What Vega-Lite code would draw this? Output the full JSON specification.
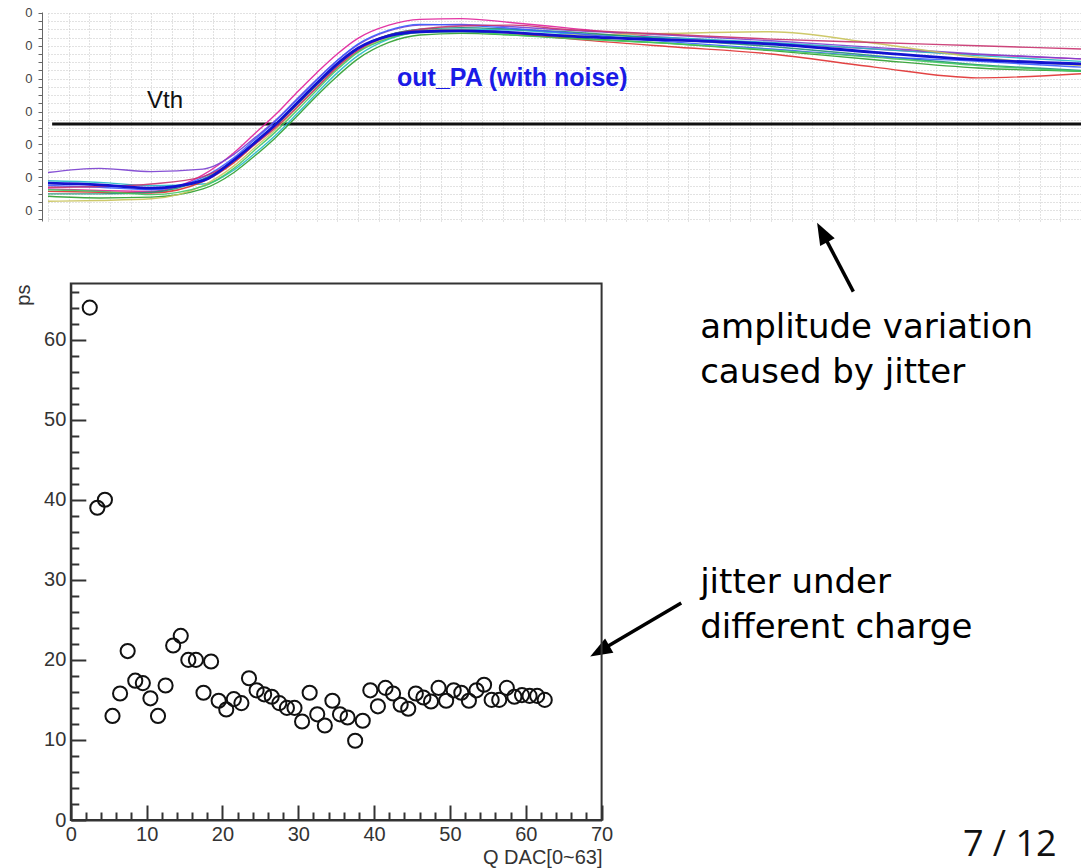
{
"$schema":"https://vega.github.io/schema/vega-lite/v6.json",
"width":1081,"height":868,"autosize":{"type":"none"},"padding":0,"background":"white",
"config":{"view":{"stroke":null},"font":"Liberation Sans"},
"datasets":{
"wave":[
{"s":"c","t":0,"v":3.3},{"s":"c","t":5,"v":3.1},{"s":"c","t":10,"v":2.7},{"s":"c","t":15,"v":3.6},{"s":"c","t":18,"v":6.1},{"s":"c","t":20,"v":8.2},{"s":"c","t":22,"v":10.4},{"s":"c","t":24,"v":12.9},{"s":"c","t":26,"v":15.4},{"s":"c","t":28,"v":17.8},{"s":"c","t":30,"v":19.7},{"s":"c","t":33,"v":21.2},{"s":"c","t":36,"v":21.7},{"s":"c","t":40,"v":21.8},{"s":"c","t":45,"v":21.6},{"s":"c","t":50,"v":21.2},{"s":"c","t":60,"v":20.7},{"s":"c","t":70,"v":20.2},{"s":"c","t":80,"v":19.2},{"s":"c","t":90,"v":18.3},{"s":"c","t":100,"v":17.8},
{"s":"a","t":0,"v":2.6},{"s":"a","t":5,"v":2.4},{"s":"a","t":10,"v":2.3},{"s":"a","t":15,"v":4.3},{"s":"a","t":18,"v":7.0},{"s":"a","t":20,"v":9.3},{"s":"a","t":22,"v":11.6},{"s":"a","t":24,"v":14.2},{"s":"a","t":26,"v":16.7},{"s":"a","t":28,"v":19.0},{"s":"a","t":30,"v":20.9},{"s":"a","t":33,"v":22.5},{"s":"a","t":36,"v":23.2},{"s":"a","t":40,"v":23.3},{"s":"a","t":45,"v":22.8},{"s":"a","t":50,"v":22.2},{"s":"a","t":60,"v":21.0},{"s":"a","t":70,"v":20.3},{"s":"a","t":80,"v":19.6},{"s":"a","t":90,"v":18.9},{"s":"a","t":100,"v":18.4},
{"s":"b","t":0,"v":1.7},{"s":"b","t":5,"v":1.5},{"s":"b","t":10,"v":1.6},{"s":"b","t":15,"v":2.6},{"s":"b","t":18,"v":4.6},{"s":"b","t":20,"v":6.6},{"s":"b","t":22,"v":8.8},{"s":"b","t":24,"v":11.3},{"s":"b","t":26,"v":13.9},{"s":"b","t":28,"v":16.3},{"s":"b","t":30,"v":18.4},{"s":"b","t":33,"v":20.4},{"s":"b","t":36,"v":21.3},{"s":"b","t":40,"v":21.5},{"s":"b","t":45,"v":21.3},{"s":"b","t":50,"v":21.0},{"s":"b","t":60,"v":20.3},{"s":"b","t":70,"v":19.4},{"s":"b","t":80,"v":18.3},{"s":"b","t":90,"v":17.3},{"s":"b","t":100,"v":16.9},
{"s":"d","t":0,"v":3.6},{"s":"d","t":5,"v":3.4},{"s":"d","t":10,"v":3.0},{"s":"d","t":15,"v":3.2},{"s":"d","t":18,"v":4.9},{"s":"d","t":20,"v":6.9},{"s":"d","t":22,"v":9.1},{"s":"d","t":24,"v":11.6},{"s":"d","t":26,"v":14.2},{"s":"d","t":28,"v":16.7},{"s":"d","t":30,"v":18.8},{"s":"d","t":33,"v":20.8},{"s":"d","t":36,"v":21.7},{"s":"d","t":40,"v":22.0},{"s":"d","t":45,"v":21.9},{"s":"d","t":50,"v":21.5},{"s":"d","t":60,"v":21.0},{"s":"d","t":70,"v":20.4},{"s":"d","t":80,"v":19.6},{"s":"d","t":90,"v":18.8},{"s":"d","t":100,"v":18.1},
{"s":"e","t":0,"v":2.3},{"s":"e","t":5,"v":2.2},{"s":"e","t":10,"v":2.1},{"s":"e","t":15,"v":3.5},{"s":"e","t":18,"v":5.8},{"s":"e","t":20,"v":8.0},{"s":"e","t":22,"v":10.2},{"s":"e","t":24,"v":12.7},{"s":"e","t":26,"v":15.2},{"s":"e","t":28,"v":17.6},{"s":"e","t":30,"v":19.6},{"s":"e","t":33,"v":21.3},{"s":"e","t":36,"v":21.9},{"s":"e","t":40,"v":21.9},{"s":"e","t":45,"v":21.5},{"s":"e","t":50,"v":20.9},{"s":"e","t":60,"v":19.9},{"s":"e","t":70,"v":19.0},{"s":"e","t":80,"v":17.4},{"s":"e","t":90,"v":16.1},{"s":"e","t":100,"v":16.6},
{"s":"f","t":0,"v":4.6},{"s":"f","t":5,"v":5.1},{"s":"f","t":10,"v":4.7},{"s":"f","t":15,"v":5.0},{"s":"f","t":18,"v":6.8},{"s":"f","t":20,"v":8.8},{"s":"f","t":22,"v":10.9},{"s":"f","t":24,"v":13.4},{"s":"f","t":26,"v":15.9},{"s":"f","t":28,"v":18.2},{"s":"f","t":30,"v":20.1},{"s":"f","t":33,"v":21.8},{"s":"f","t":36,"v":22.5},{"s":"f","t":40,"v":22.6},{"s":"f","t":45,"v":22.3},{"s":"f","t":50,"v":21.9},{"s":"f","t":60,"v":21.3},{"s":"f","t":70,"v":20.6},{"s":"f","t":80,"v":19.8},{"s":"f","t":90,"v":19.0},{"s":"f","t":100,"v":18.4},
{"s":"g","t":0,"v":1.1},{"s":"g","t":5,"v":1.2},{"s":"g","t":10,"v":1.4},{"s":"g","t":15,"v":3.0},{"s":"g","t":18,"v":5.4},{"s":"g","t":20,"v":7.6},{"s":"g","t":22,"v":9.8},{"s":"g","t":24,"v":12.3},{"s":"g","t":26,"v":14.9},{"s":"g","t":28,"v":17.3},{"s":"g","t":30,"v":19.3},{"s":"g","t":33,"v":21.0},{"s":"g","t":36,"v":21.8},{"s":"g","t":40,"v":21.9},{"s":"g","t":45,"v":21.6},{"s":"g","t":50,"v":21.3},{"s":"g","t":60,"v":21.5},{"s":"g","t":70,"v":21.7},{"s":"g","t":80,"v":20.3},{"s":"g","t":90,"v":18.6},{"s":"g","t":100,"v":17.6},
{"s":"h","t":0,"v":2.0},{"s":"h","t":5,"v":2.0},{"s":"h","t":10,"v":2.2},{"s":"h","t":15,"v":3.8},{"s":"h","t":18,"v":6.0},{"s":"h","t":20,"v":8.2},{"s":"h","t":22,"v":10.3},{"s":"h","t":24,"v":12.7},{"s":"h","t":26,"v":15.2},{"s":"h","t":28,"v":17.6},{"s":"h","t":30,"v":19.6},{"s":"h","t":33,"v":21.3},{"s":"h","t":36,"v":22.0},{"s":"h","t":40,"v":22.2},{"s":"h","t":45,"v":22.0},{"s":"h","t":50,"v":21.7},{"s":"h","t":60,"v":20.8},{"s":"h","t":70,"v":19.9},{"s":"h","t":80,"v":18.8},{"s":"h","t":90,"v":17.7},{"s":"h","t":100,"v":17.0},
{"s":"i","t":0,"v":3.0},{"s":"i","t":5,"v":2.8},{"s":"i","t":10,"v":2.5},{"s":"i","t":15,"v":4.0},{"s":"i","t":18,"v":6.4},{"s":"i","t":20,"v":8.6},{"s":"i","t":22,"v":10.8},{"s":"i","t":24,"v":13.3},{"s":"i","t":26,"v":15.8},{"s":"i","t":28,"v":18.2},{"s":"i","t":30,"v":20.2},{"s":"i","t":33,"v":21.9},{"s":"i","t":36,"v":22.6},{"s":"i","t":40,"v":22.5},{"s":"i","t":45,"v":22.1},{"s":"i","t":50,"v":21.6},{"s":"i","t":60,"v":20.5},{"s":"i","t":70,"v":19.6},{"s":"i","t":80,"v":18.7},{"s":"i","t":90,"v":18.1},{"s":"i","t":100,"v":17.4},
{"s":"j","t":0,"v":2.8},{"s":"j","t":5,"v":2.9},{"s":"j","t":10,"v":3.2},{"s":"j","t":15,"v":4.1},{"s":"j","t":18,"v":6.0},{"s":"j","t":20,"v":8.0},{"s":"j","t":22,"v":10.0},{"s":"j","t":24,"v":12.4},{"s":"j","t":26,"v":14.9},{"s":"j","t":28,"v":17.4},{"s":"j","t":30,"v":19.4},{"s":"j","t":33,"v":21.2},{"s":"j","t":36,"v":22.0},{"s":"j","t":40,"v":22.4},{"s":"j","t":45,"v":22.5},{"s":"j","t":50,"v":22.0},{"s":"j","t":60,"v":21.4},{"s":"j","t":70,"v":20.8},{"s":"j","t":80,"v":20.4},{"s":"j","t":90,"v":20.0},{"s":"j","t":100,"v":19.6},
{"s":"k","t":0,"v":2.5},{"s":"k","t":5,"v":2.3},{"s":"k","t":10,"v":1.9},{"s":"k","t":15,"v":2.9},{"s":"k","t":18,"v":5.1},{"s":"k","t":20,"v":7.3},{"s":"k","t":22,"v":9.5},{"s":"k","t":24,"v":12.0},{"s":"k","t":26,"v":14.6},{"s":"k","t":28,"v":17.1},{"s":"k","t":30,"v":19.2},{"s":"k","t":33,"v":20.9},{"s":"k","t":36,"v":21.6},{"s":"k","t":40,"v":21.7},{"s":"k","t":45,"v":21.3},{"s":"k","t":50,"v":20.9},{"s":"k","t":60,"v":20.3},{"s":"k","t":70,"v":19.5},{"s":"k","t":80,"v":18.6},{"s":"k","t":90,"v":17.6},{"s":"k","t":100,"v":16.9}
],
"jitter":[
{"q":2.5,"ps":64.0},{"q":3.5,"ps":39.0},{"q":4.5,"ps":40.0},{"q":5.5,"ps":13.0},{"q":6.5,"ps":15.8},{"q":7.5,"ps":21.1},{"q":8.5,"ps":17.4},{"q":9.5,"ps":17.1},{"q":10.5,"ps":15.2},{"q":11.5,"ps":13.0},{"q":12.5,"ps":16.8},{"q":13.5,"ps":21.8},{"q":14.5,"ps":23.0},{"q":15.5,"ps":20.0},{"q":16.5,"ps":20.0},{"q":17.5,"ps":15.9},{"q":18.5,"ps":19.8},{"q":19.5,"ps":14.9},{"q":20.5,"ps":13.8},{"q":21.5,"ps":15.1},{"q":22.5,"ps":14.6},{"q":23.5,"ps":17.7},{"q":24.5,"ps":16.2},{"q":25.5,"ps":15.7},{"q":26.5,"ps":15.4},{"q":27.5,"ps":14.6},{"q":28.5,"ps":14.0},{"q":29.5,"ps":14.0},{"q":30.5,"ps":12.3},{"q":31.5,"ps":15.9},{"q":32.5,"ps":13.2},{"q":33.5,"ps":11.8},{"q":34.5,"ps":14.9},{"q":35.5,"ps":13.2},{"q":36.5,"ps":12.8},{"q":37.5,"ps":9.9},{"q":38.5,"ps":12.4},{"q":39.5,"ps":16.2},{"q":40.5,"ps":14.2},{"q":41.5,"ps":16.5},{"q":42.5,"ps":15.8},{"q":43.5,"ps":14.4},{"q":44.5,"ps":13.9},{"q":45.5,"ps":15.8},{"q":46.5,"ps":15.3},{"q":47.5,"ps":14.8},{"q":48.5,"ps":16.5},{"q":49.5,"ps":14.9},{"q":50.5,"ps":16.2},{"q":51.5,"ps":15.9},{"q":52.5,"ps":14.9},{"q":53.5,"ps":16.2},{"q":54.5,"ps":16.9},{"q":55.5,"ps":15.0},{"q":56.5,"ps":15.0},{"q":57.5,"ps":16.5},{"q":58.5,"ps":15.4},{"q":59.5,"ps":15.6},{"q":60.5,"ps":15.5},{"q":61.5,"ps":15.5},{"q":62.5,"ps":15.0}
]
},
"layer":[
{"data":{"values":[{"name":"Vth"}]},
 "mark":{"type":"rule","color":"#111111","strokeWidth":3},
 "encoding":{
  "x":{"datum":0.4,"type":"quantitative","scale":{"domain":[0,100],"range":[48,1081],"nice":false,"zero":false},
       "axis":{"orient":"top","offset":-12,"tickCount":50,"grid":true,"gridColor":"#c4c4c4","gridDash":[1,2],"gridWidth":1,"ticks":false,"labels":false,"domain":false,"title":null}},
  "x2":{"datum":100},
  "y":{"datum":10.49,"type":"quantitative","scale":{"domain":[-1.3,24.1],"range":[221,12],"nice":false,"zero":false},
       "axis":{"orient":"left","offset":-42,"tickCount":25,"grid":true,"gridColor":"#c4c4c4","gridDash":[1,2],"gridWidth":1,"domain":true,"domainColor":"#666666","domainWidth":1,"ticks":true,"tickSize":4,"tickColor":"#666666","labelExpr":"datum.value % 4 === 0 ? '0' : ''","labelFont":"Liberation Sans","labelFontSize":13,"labelColor":"#444444","labelPadding":6,"labelOverlap":false,"labelFlush":false,"title":null}}
 }},
{"layer":[
 {"data":{"name":"wave"},"transform":[{"filter":"datum.s !== 'c'"}],
  "mark":{"type":"line","interpolate":"monotone","strokeWidth":1.4,"opacity":0.9},
  "encoding":{
   "x":{"field":"t","type":"quantitative","scale":{"domain":[0,100],"range":[48,1081],"nice":false,"zero":false},"axis":null},
   "y":{"field":"v","type":"quantitative","scale":{"domain":[-1.3,24.1],"range":[221,12],"nice":false,"zero":false},"axis":null},
   "color":{"field":"s","type":"nominal","legend":null,"scale":{"domain":["a","b","d","e","f","g","h","i","j","k"],"range":["#e0209a","#2e9e2e","#20b8c8","#e03030","#7a3fd0","#c9c35a","#1f8f75","#3a5cff","#c8326e","#40c860"]}}
  }},
 {"data":{"name":"wave"},"transform":[{"filter":"datum.s === 'c'"}],
  "mark":{"type":"line","interpolate":"monotone","strokeWidth":2.8,"color":"#1212d0"},
  "encoding":{
   "x":{"field":"t","type":"quantitative","scale":{"domain":[0,100],"range":[48,1081],"nice":false,"zero":false},"axis":null},
   "y":{"field":"v","type":"quantitative","scale":{"domain":[-1.3,24.1],"range":[221,12],"nice":false,"zero":false},"axis":null}
  }},
 {"data":{"values":[{"label":"Vth"}]},
  "mark":{"type":"text","font":"Liberation Sans","fontSize":24,"color":"#111111","align":"left","baseline":"alphabetic"},
  "encoding":{
   "x":{"datum":9.58,"type":"quantitative","scale":{"domain":[0,100],"range":[48,1081],"nice":false,"zero":false},"axis":null},
   "y":{"datum":12.43,"type":"quantitative","scale":{"domain":[-1.3,24.1],"range":[221,12],"nice":false,"zero":false},"axis":null},
   "text":{"field":"label"}
  }},
 {"data":{"values":[{"label":"out_PA (with noise)"}]},
  "mark":{"type":"text","font":"Liberation Sans","fontSize":25,"fontWeight":"bold","color":"#1a1ae6","align":"left","baseline":"alphabetic"},
  "encoding":{
   "x":{"datum":33.79,"type":"quantitative","scale":{"domain":[0,100],"range":[48,1081],"nice":false,"zero":false},"axis":null},
   "y":{"datum":15.11,"type":"quantitative","scale":{"domain":[-1.3,24.1],"range":[221,12],"nice":false,"zero":false},"axis":null},
   "text":{"field":"label"}
  }}
]},
{"data":{"name":"jitter"},
 "mark":{"type":"point","shape":"circle","filled":false,"stroke":"#111111","strokeWidth":2,"size":200,"opacity":1},
 "encoding":{
  "x":{"field":"q","type":"quantitative","scale":{"domain":[0,70],"range":[70.8,601.6],"nice":false,"zero":false},
       "axis":{"orient":"bottom","offset":-48,"values":[0,10,20,30,40,50,60,70],"grid":false,"domain":true,"domainColor":"#333333","domainWidth":2,"ticks":true,"tickSize":-15,"tickColor":"#333333","tickWidth":2,"labelFont":"Liberation Sans","labelFontSize":20,"labelColor":"#333333","labelPadding":19.5,"labelFlush":false,"labelOverlap":false,"labelBaseline":"top","title":"Q DAC[0~63]","titleFont":"Liberation Sans","titleFontSize":20,"titleFontWeight":"normal","titleColor":"#333333","titleX":602,"titleY":43,"titleAlign":"right","titleBaseline":"alphabetic","titleAnchor":"end"}},
  "y":{"field":"ps","type":"quantitative","scale":{"domain":[0,67],"range":[820,283.6],"nice":false,"zero":false},
       "axis":{"orient":"left","offset":-70.8,"values":[0,10,20,30,40,50,60],"grid":false,"domain":true,"domainColor":"#333333","domainWidth":2,"ticks":true,"tickSize":-15,"tickColor":"#333333","tickWidth":2,"labelFont":"Liberation Sans","labelFontSize":20,"labelColor":"#333333","labelPadding":20,"labelFlush":false,"labelOverlap":false,"title":"ps","titleFont":"Liberation Sans","titleFontSize":20,"titleFontWeight":"normal","titleColor":"#333333","titleAngle":270,"titleX":-41.8,"titleY":284,"titleAlign":"right","titleBaseline":"alphabetic","titleAnchor":"end"}}
 }},
{"layer":[
 {"data":{"values":[{"label":"amplitude variation"}]},
  "mark":{"type":"text","font":"DejaVu Sans","fontSize":34,"color":"#000000","align":"left","baseline":"alphabetic"},
  "encoding":{
   "x":{"datum":83.0,"type":"quantitative","scale":{"domain":[0,70],"range":[70.8,601.6],"nice":false,"zero":false},"axis":null},
   "y":{"datum":60.25,"type":"quantitative","scale":{"domain":[0,67],"range":[820,283.6],"nice":false,"zero":false},"axis":null},
   "text":{"field":"label"}
  }},
 {"data":{"values":[{"label":"caused by jitter"}]},
  "mark":{"type":"text","font":"DejaVu Sans","fontSize":34,"color":"#000000","align":"left","baseline":"alphabetic"},
  "encoding":{
   "x":{"datum":83.0,"type":"quantitative","scale":{"domain":[0,70],"range":[70.8,601.6],"nice":false,"zero":false},"axis":null},
   "y":{"datum":54.6,"type":"quantitative","scale":{"domain":[0,67],"range":[820,283.6],"nice":false,"zero":false},"axis":null},
   "text":{"field":"label"}
  }},
 {"data":{"values":[{"label":"jitter under"}]},
  "mark":{"type":"text","font":"DejaVu Sans","fontSize":34,"color":"#000000","align":"left","baseline":"alphabetic"},
  "encoding":{
   "x":{"datum":83.0,"type":"quantitative","scale":{"domain":[0,70],"range":[70.8,601.6],"nice":false,"zero":false},"axis":null},
   "y":{"datum":28.4,"type":"quantitative","scale":{"domain":[0,67],"range":[820,283.6],"nice":false,"zero":false},"axis":null},
   "text":{"field":"label"}
  }},
 {"data":{"values":[{"label":"different charge"}]},
  "mark":{"type":"text","font":"DejaVu Sans","fontSize":34,"color":"#000000","align":"left","baseline":"alphabetic"},
  "encoding":{
   "x":{"datum":83.0,"type":"quantitative","scale":{"domain":[0,70],"range":[70.8,601.6],"nice":false,"zero":false},"axis":null},
   "y":{"datum":22.75,"type":"quantitative","scale":{"domain":[0,67],"range":[820,283.6],"nice":false,"zero":false},"axis":null},
   "text":{"field":"label"}
  }},
 {"data":{"values":[{"label":"7 / 12"}]},
  "mark":{"type":"text","font":"Open Sans","fontSize":36,"color":"#111111","align":"right","baseline":"alphabetic"},
  "encoding":{
   "x":{"datum":130.0,"type":"quantitative","scale":{"domain":[0,70],"range":[70.8,601.6],"nice":false,"zero":false},"axis":null},
   "y":{"datum":-4.5,"type":"quantitative","scale":{"domain":[0,67],"range":[820,283.6],"nice":false,"zero":false},"axis":null},
   "text":{"field":"label"}
  }},
 {"data":{"values":[{"arrow":"amplitude"}]},
  "mark":{"type":"rule","color":"#000000","strokeWidth":3.5},
  "encoding":{
   "x":{"datum":103.2,"type":"quantitative","scale":{"domain":[0,70],"range":[70.8,601.6],"nice":false,"zero":false},"axis":null},
   "x2":{"datum":99.1},
   "y":{"datum":66.0,"type":"quantitative","scale":{"domain":[0,67],"range":[820,283.6],"nice":false,"zero":false},"axis":null},
   "y2":{"datum":73.4}
  }},
 {"data":{"values":[{"arrow":"amplitude"}]},
  "mark":{"type":"point","shape":"M0,-1L0.75,1L-0.75,1Z","filled":true,"fill":"#000000","strokeWidth":0,"size":484,"angle":332,"opacity":1},
  "encoding":{
   "x":{"datum":99.1,"type":"quantitative","scale":{"domain":[0,70],"range":[70.8,601.6],"nice":false,"zero":false},"axis":null},
   "y":{"datum":73.4,"type":"quantitative","scale":{"domain":[0,67],"range":[820,283.6],"nice":false,"zero":false},"axis":null}
  }},
 {"data":{"values":[{"arrow":"jitter"}]},
  "mark":{"type":"rule","color":"#000000","strokeWidth":3.5},
  "encoding":{
   "x":{"datum":80.5,"type":"quantitative","scale":{"domain":[0,70],"range":[70.8,601.6],"nice":false,"zero":false},"axis":null},
   "x2":{"datum":69.75},
   "y":{"datum":27.1,"type":"quantitative","scale":{"domain":[0,67],"range":[820,283.6],"nice":false,"zero":false},"axis":null},
   "y2":{"datum":21.1}
  }},
 {"data":{"values":[{"arrow":"jitter"}]},
  "mark":{"type":"point","shape":"M0,-1L0.75,1L-0.75,1Z","filled":true,"fill":"#000000","strokeWidth":0,"size":484,"angle":240,"opacity":1},
  "encoding":{
   "x":{"datum":69.75,"type":"quantitative","scale":{"domain":[0,70],"range":[70.8,601.6],"nice":false,"zero":false},"axis":null},
   "y":{"datum":21.1,"type":"quantitative","scale":{"domain":[0,67],"range":[820,283.6],"nice":false,"zero":false},"axis":null}
  }}
]},
{"data":{"values":[{"frame":"box"}]},
 "mark":{"type":"rect","fillOpacity":0,"stroke":"#333333","strokeWidth":2},
 "encoding":{
  "x":{"datum":0,"type":"quantitative","scale":{"domain":[0,70],"range":[70.8,601.6],"nice":false,"zero":false},
       "axis":{"orient":"bottom","offset":-48,"values":[2,4,6,8,12,14,16,18,22,24,26,28,32,34,36,38,42,44,46,48,52,54,56,58,62,64,66,68],"grid":false,"domain":false,"labels":false,"ticks":true,"tickSize":-8,"tickColor":"#333333","tickWidth":2,"title":null}},
  "x2":{"datum":70},
  "y":{"datum":0,"type":"quantitative","scale":{"domain":[0,67],"range":[820,283.6],"nice":false,"zero":false},
       "axis":{"orient":"left","offset":-70.8,"values":[2,4,6,8,12,14,16,18,22,24,26,28,32,34,36,38,42,44,46,48,52,54,56,58,62,64,66],"grid":false,"domain":false,"labels":false,"ticks":true,"tickSize":-8,"tickColor":"#333333","tickWidth":2,"title":null}},
  "y2":{"datum":67}
 }}
],
"resolve":{"scale":{"x":"independent","y":"independent"}}
}
